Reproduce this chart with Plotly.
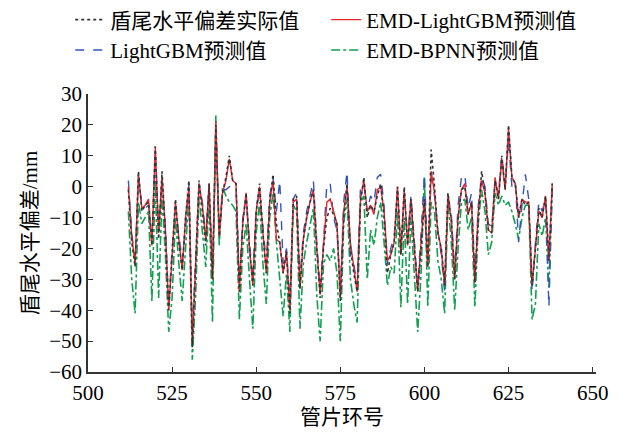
import plotly.graph_objects as go

rings = list(range(512, 639))

actual = [
    -1, -18, -26, 5, -8, -6, -5, -19, 13, -17,
    5, -15, -40, -22, -4, -18, -27, -10, 2, -52,
    -25, 2, -8, -19, 1, -30, 20, -16, -2, 3,
    10, 2, 1, -34, -12, -2, -20, -32, -8, 1,
    -15, -28, -5, 4, -12, -18, -28, -21, -41, -4,
    -3, -33, -17, -10, -5, -1, -20, -36, -20, -10,
    -7, -9, -12, -37, -10, 1, -20, -28, -34, -5,
    3, -10, -6, -8, -3, 1, -10, -28, -22, -18,
    0, -22, 0, -19, -4, -20, -34, -20, -4, -26,
    12, 0, -15, -20, -32, -2, -11, -30, -10, -1,
    0, -9, -5, -31, -10, 5, -2, -14, -15, 2,
    -4, 10, -1, 20, 3, 1, -10, -4, -6, -5,
    -32, -20, -7, -10, -3, -24, 1,
]

emd_lgbm = [
    0, -16, -25, 4, -7, -6, -4, -19, 13, -15,
    3, -14, -40, -22, -5, -17, -27, -10, 0, -51,
    -24, 1, -6, -17, 1, -30, 21, -16, -2, 2,
    9, 2, 1, -34, -12, -2, -20, -32, -8, 0,
    -15, -28, -5, 2, -17, -18, -28, -21, -40, -5,
    -4, -33, -17, -10, -5, -1, -20, -35, -19, -5,
    -4, -8, -12, -36, -8, 0, -18, -26, -34, -4,
    2, -8, -6, -9, -1, 0, -8, -24, -22, -18,
    0, -22, -1, -19, -4, -20, -34, -18, -4, -26,
    5, -2, -15, -20, -32, -3, -11, -30, -10, -1,
    1, -9, -5, -31, -8, 2, -2, -14, -15, 3,
    -4, 9, -1, 19, 3, 1, -10, -4, -5, -5,
    -32, -20, -8, -10, -3, -24, 1,
]

lgbm = [
    2, -15, -24, 3, -6, -7, -6, -17, 11, -14,
    2, -13, -38, -20, -7, -15, -24, -14, 1, -48,
    -22, 1, -5, -16, 0, -27, 18, -14, -1, -1,
    0, -1, -1, -30, -10, -4, -18, -30, -6, -3,
    -13, -25, -3, 3, -8, 2, -25, -20, -38, -4,
    -2, -30, -15, -8, -3, 2, -18, -33, -18, 1,
    1, -10, -14, -34, -5, 5, -23, -25, -32, 0,
    1, -8, -3, -5, 3, 4, -6, -25, -20, -16,
    -2, -20, -2, -17, -3, -18, -32, -15, 4, -24,
    3, -3, -14, -22, -34, -3, -9, -28, -6, 3,
    4, -7, -2, -29, -6, 3, 0, -12, -13, 1,
    -2, 10, 0, 15, 0, 2, -18, -6, 4, -4,
    -34, -18, -5, -8, -4, -39, 0,
]

emd_bpnn = [
    -8, -30, -41, -5, -12, -10, -8, -37, 2, -36,
    -3, -22, -47, -36, -10, -25, -37, -20, -3, -56,
    -35, -3, -14, -26, -4, -44, 23, -19, 0, -3,
    -5, -6, -8, -43, -20, -12, -30, -46, -15, -5,
    -25, -38, -10, -2, -18, -30, -42, -28, -47, -6,
    -8, -46, -25, -18, -12, -7, -35, -50, -25, -22,
    -24, -20, -28, -50, -12, -4, -30, -38, -44, -5,
    -3, -30, -14, -19, -10, -5, -18, -32, -26, -28,
    -8, -39, -10, -38, -10, -30, -47, -28, 3, -39,
    -5, -8, -24, -30, -41, -5, -18, -40, -20, -5,
    -4, -14, -10, -39, -12, -1, -8, -22, -18, -2,
    -6, -3, -6, -5, -8, -12, -17, -10, -6, -6,
    -43, -38, -12, -16, -10, -33, 0,
]

x_ticks = [500, 525, 550, 575, 600, 625, 650]
y_ticks = [-60, -50, -40, -30, -20, -10, 0, 10, 20, 30]

FONT = "Liberation Serif, Noto Sans CJK SC, serif"

fig = go.Figure()
fig.add_trace(go.Scatter(x=rings, y=emd_bpnn, mode="lines", name="EMD-BPNN预测值",
                         line=dict(color="#12a050", width=1.6, dash="dashdot"), legendrank=4))
fig.add_trace(go.Scatter(x=rings, y=lgbm, mode="lines", name="LightGBM预测值",
                         line=dict(color="#3355bb", width=1.4, dash="dash"), legendrank=3))
fig.add_trace(go.Scatter(x=rings, y=emd_lgbm, mode="lines", name="EMD-LightGBM预测值",
                         line=dict(color="#e8242c", width=1.4), legendrank=2))
fig.add_trace(go.Scatter(x=rings, y=actual, mode="lines", name="盾尾水平偏差实际值",
                         line=dict(color="#333333", width=1.6, dash="dot"), legendrank=1))

fig.update_layout(
    width=626, height=436,
    margin=dict(l=88, r=30, t=94, b=64, autoexpand=False),
    paper_bgcolor="white", plot_bgcolor="white",
    font=dict(family=FONT, size=21, color="black"),
    showlegend=True,
    legend=dict(orientation="h", x=-0.035, xanchor="left", y=1.34, yanchor="top",
                entrywidth=211, entrywidthmode="pixels",
                font=dict(family=FONT, size=21), bgcolor="rgba(0,0,0,0)",
                tracegroupgap=0),
    xaxis=dict(range=[500, 651], tickvals=x_ticks, ticks="inside", ticklen=5,
               tickcolor="#333", showline=True, linecolor="#333", linewidth=1.5,
               showgrid=False, zeroline=False, mirror=False,
               tickfont=dict(family=FONT, size=21), ticklabelstandoff=1,
               title=dict(text="管片环号", font=dict(family=FONT, size=21), standoff=5)),
    yaxis=dict(range=[-60, 30], tickvals=y_ticks, ticks="inside", ticklen=5,
               tickcolor="#333", showline=True, linecolor="#333", linewidth=1.5,
               showgrid=False, zeroline=False, mirror=False,
               tickfont=dict(family=FONT, size=21),
               title=dict(text="盾尾水平偏差/mm", font=dict(family=FONT, size=21), standoff=6)),
)

fig.write_html("out.html")
